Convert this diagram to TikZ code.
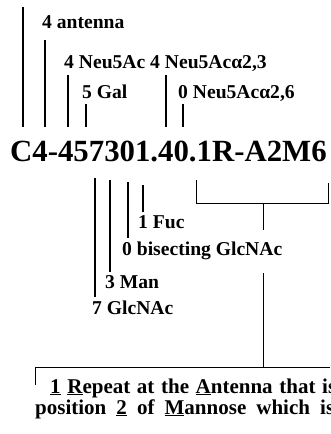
\documentclass[tikz,border=0pt]{standalone}
\usepackage{fontspec}
\setmainfont{Liberation Serif}
\usepackage{tikz}

\begin{document}
\begin{tikzpicture}[x=1pt, y=-1pt,
      lbl/.style={anchor=base west, inner sep=0pt, font=\fontsize{19.6}{22}\selectfont\bfseries},
      note/.style={anchor=base west, inner sep=0pt, font=\fontsize{21}{24}\selectfont\bfseries},
      code/.style={anchor=base west, inner sep=0pt, font=\fontsize{30.8}{34}\selectfont\bfseries},
      tick/.style={line width=1.3pt},
      brk/.style={line width=0.9pt}
    ]
      \useasboundingbox (0,0) rectangle (330,434);
      \clip (0,0) rectangle (330,434);
      % the code
      \node[code] (code) at (10,161) {C4-457301.40.1R-A2M6};
      \coordinate (codetop) at (0,127);
      % above the code
      \node[lbl] (ant) at (42,28) {4 antenna};
      \node[lbl] (neu) at (64,68) {4 Neu5Ac};
      \node[lbl] (gal) at (82,98) {5 Gal};
      \node[lbl] (neua) at (150,68) {4 Neu5Acα2,3};
      \node[lbl] (neub) at (178,98) {0 Neu5Acα2,6};
      \coordinate (cls) at (23,7);
      \coordinate (antl) at (45,40);
      \coordinate (neul) at (68,75);
      \coordinate (gall) at (86,104);
      \coordinate (neual) at (166,75);
      \coordinate (neubl) at (183,104);
      \draw[tick] (cls) -- (cls |- codetop);
      \draw[tick] (antl) -- (antl |- codetop);
      \draw[tick] (neul) -- (neul |- codetop);
      \draw[tick] (gall) -- (gall |- codetop);
      \draw[tick] (neual) -- (neual |- codetop);
      \draw[tick] (neubl) -- (neubl |- codetop);
      % below the code
      \node[lbl] (fuc) at (138,228) {1 Fuc};
      \node[lbl] (bis) at (122,255) {0 bisecting GlcNAc};
      \node[lbl] (man) at (105,288) {3 Man};
      \node[lbl] (glc) at (92,314) {7 GlcNAc};
      \coordinate (glcl) at (95,178);
      \coordinate (manl) at (110,180);
      \coordinate (bisl) at (128,182);
      \coordinate (fucl) at (143,185);
      \draw[tick] (glcl) -- ([yshift=3pt]glcl |- glc.north);
      \draw[tick] (manl) -- ([yshift=3pt]manl |- man.north);
      \draw[tick] (bisl) -- ([yshift=3pt]bisl |- bis.north);
      \draw[tick] (fucl) -- ([yshift=3pt]fucl |- fuc.north);
      % repeat bracket
      \coordinate (rl) at (196,180);
      \coordinate (rr) at (328,183);
      \coordinate (rm) at (263,203);
      \draw[brk] (rl) -- (rl |- rm) -- (rr |- rm) -- (rr);
      \draw[brk] (rm) -- ++(0,27) coordinate (rmend);
      % explanation
      \node[note] (rep1) at (50,393)
        {\makebox[286pt][s]{\underline{1} \underline{R}epeat at the \underline{A}ntenna that is}};
      \node[note] (rep2) at (35,414)
        {\makebox[299pt][s]{position \underline{2} of \underline{M}annose which is}};
      \coordinate (bl) at (35,385);
      \coordinate (bar) at (263,367);
      \coordinate (rdown) at (263,273);
      \draw[brk] (rdown) -- (bar);
      \draw[brk] (bl) -- (bl |- bar) -- (330,367);
    \end{tikzpicture}
\end{document}
